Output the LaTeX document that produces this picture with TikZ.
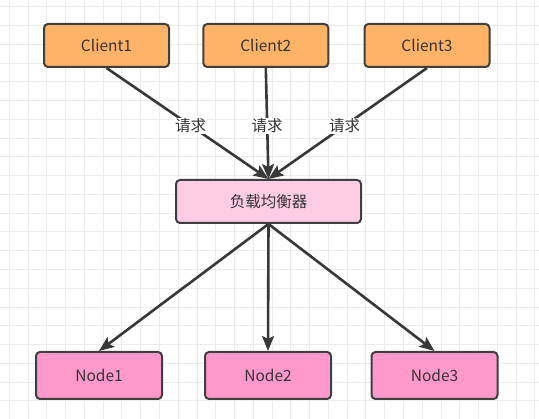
\documentclass[tikz,border=0pt]{standalone}
\usepackage{fontspec}
\setmainfont{Noto Sans CJK SC}
\usetikzlibrary{arrows.meta}
\definecolor{gridc}{HTML}{EBEBEB}
\definecolor{bordc}{HTML}{3F3F3F}
\definecolor{clientc}{HTML}{FFB366}
\definecolor{lbc}{HTML}{FFCCE6}
\definecolor{nodec}{HTML}{FF99CC}
\definecolor{textc}{HTML}{333333}
\definecolor{linec}{HTML}{383838}
\tikzset{
  box/.style={draw=bordc, line width=2pt, rounded corners=4pt, minimum height=43pt, minimum width=125pt, inner sep=0pt, text=textc, font=\fontsize{15.5}{17}\selectfont},
  clientbox/.style={box, fill=clientc},
  lbbox/.style={box, fill=lbc, minimum width=185pt},
  nodebox/.style={box, fill=nodec, minimum width=126pt, minimum height=47pt},
  conn/.style={draw=linec, line width=2.6pt, -{Stealth[length=15pt,width=12pt,inset=3pt]}},
  lbl/.style={fill=white, inner sep=1pt, text=textc, font=\fontsize{15.5}{17}\selectfont}
}
\begin{document}
\begin{tikzpicture}[x=1pt,y=-1pt]
\useasboundingbox (0,0) rectangle (539,419);
\fill[white] (0,0) rectangle (539,419);
\foreach \i in {0,...,28} {
  \draw[gridc, line width=1pt] ({9.3+18.77*\i},0) -- ({9.3+18.77*\i},419);
}
\foreach \j in {0,...,22} {
  \draw[gridc, line width=1pt] (0,{6.7+18.77*\j}) -- (539,{6.7+18.77*\j});
}
\node[clientbox] (c1) at (106.5,45.5) {Client1};
\node[clientbox] (c2) at (265.8,45.5) {Client2};
\node[clientbox] (c3) at (427,45.5) {Client3};
\node[lbbox] (lb) at (268.5,201.5) {负载均衡器};
\node[nodebox] (n1) at (99,375.5) {Node1};
\node[nodebox] (n2) at (268,375.5) {Node2};
\node[nodebox] (n3) at (434.5,375.5) {Node3};
\draw[conn] (c1.south) -- node[lbl, pos=0.52] {请求} (lb.north);
\draw[conn] (c2.south) -- node[lbl, pos=0.52] {请求} (lb.north);
\draw[conn] (c3.south) -- node[lbl, pos=0.52] {请求} (lb.north);
\draw[conn] (lb.south) -- (n1.north);
\draw[conn] (lb.south) -- (n2.north);
\draw[conn] (lb.south) -- (n3.north);
\end{tikzpicture}
\end{document}
